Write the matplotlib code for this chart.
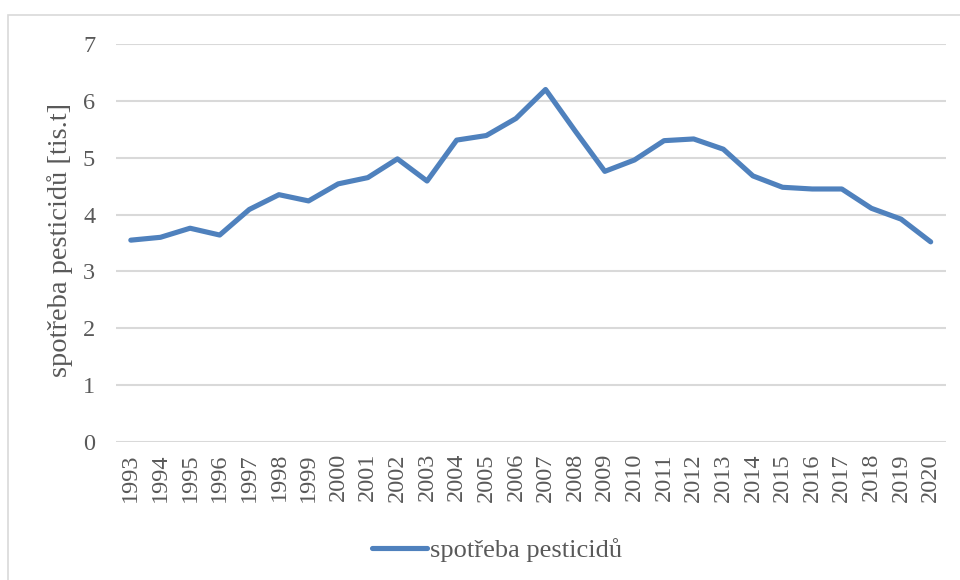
import matplotlib
matplotlib.use("Agg")
import matplotlib.pyplot as plt
from matplotlib.patches import Rectangle

years = [str(y) for y in range(1993, 2021)]
values = [3.55, 3.60, 3.76, 3.64, 4.09, 4.35, 4.24, 4.54, 4.65, 4.98,
          4.59, 5.31, 5.39, 5.69, 6.20, 5.47, 4.76, 4.96, 5.30, 5.33,
          5.15, 4.68, 4.48, 4.45, 4.45, 4.11, 3.92, 3.52]
series_name = "spotřeba pesticidů"
y_label = "spotřeba pesticidů [tis.t]"
y_ticks = [0, 1, 2, 3, 4, 5, 6, 7]

plt.rcParams['font.family'] = ['Liberation Serif', 'DejaVu Serif']
color = '#4F81BD'
text_color = '#595959'

fig = plt.figure(figsize=(9.6, 5.8), dpi=100)
fig.patches.append(Rectangle((8/960, -0.1), 1.2, 1 - 15/580 + 0.1,
                             transform=fig.transFigure, fill=False,
                             edgecolor='#D9D9D9', linewidth=1.2))

ax = fig.add_axes([116/960, 1 - 442/580, (945.5 - 116)/960, (442 - 44)/580])
x = list(range(len(years)))
ax.plot(x, values, color=color, linewidth=3.7, solid_joinstyle='round',
        solid_capstyle='round', label=series_name, zorder=3)

ax.set_xlim(-0.5, len(years) - 0.5)
ax.set_ylim(0, 7)
ax.set_yticks(y_ticks)
ax.set_xticks(x)
ax.set_xticklabels(years, rotation=90)
ax.grid(axis='y', color='#D9D9D9', linewidth=1.5)
ax.set_axisbelow(True)
for s in ax.spines.values():
    s.set_visible(False)
ax.tick_params(axis='both', length=0, labelsize=17.5, colors=text_color)
ax.tick_params(axis='y', pad=15)
ax.tick_params(axis='x', pad=8)

fig.text(60/960, 1 - 240/580, y_label, rotation=90, ha='center', va='center',
         fontsize=20.5, color=text_color)

leg = fig.legend(loc='center', bbox_to_anchor=(497/960, 1 - 550/580),
                 frameon=False, fontsize=19, handlelength=2.1,
                 handletextpad=0.1)
for t in leg.get_texts():
    t.set_color(text_color)

fig.savefig('out.png', dpi=100)
